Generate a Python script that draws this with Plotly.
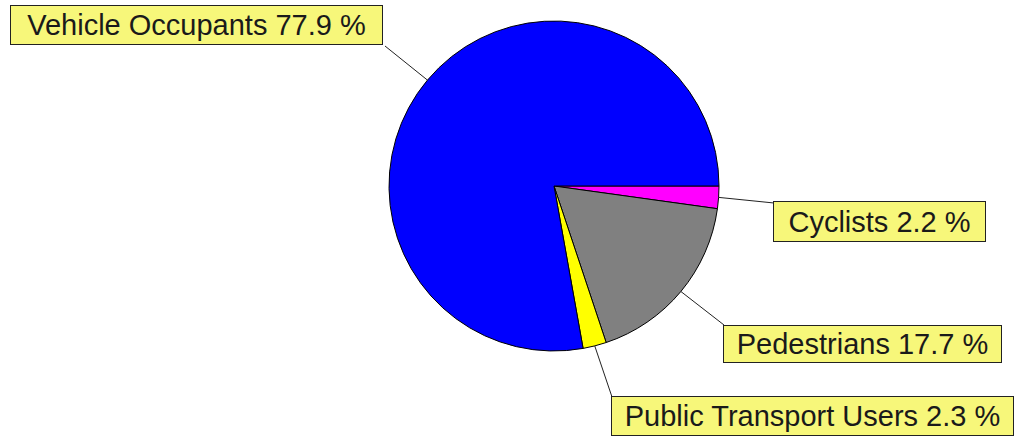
import math
import plotly.graph_objects as go

# ---- data ----
labels = ["Cyclists", "Pedestrians", "Public Transport Users", "Vehicle Occupants"]
values = [2.2, 17.7, 2.3, 77.9]
label_texts = ["Cyclists 2.2 %", "Pedestrians 17.7 %", "Public Transport Users 2.3 %", "Vehicle Occupants 77.9 %"]
colors = ["#FF00FF", "#808080", "#FFFF00", "#0000FF"]

# ---- layout constants (pixels) ----
W, H = 1017, 441
cx, cy, R = 554, 186, 165
# label boxes: left, top, right, bottom (px)
boxes = [
    (773, 201, 986, 242),
    (723, 325, 1002, 363),
    (611, 396, 1014, 436),
    (10, 5, 383, 45),
]
# anchor corner on each box that the leader line reaches
anchors = [(774, 203), (724, 325), (612, 397), (385, 46)]

def px(x):
    return x / W

def py(y):
    return 1 - y / H

fig = go.Figure()
fig.add_trace(go.Pie(
    labels=labels,
    values=values,
    sort=False,
    direction="clockwise",
    rotation=90,
    marker=dict(colors=colors, line=dict(color="black", width=1)),
    textinfo="none",
    hoverinfo="label+percent",
    showlegend=False,
    domain=dict(x=[px(cx - R), px(cx + R)], y=[py(cy + R), py(cy - R)]),
))

total = sum(values)
cum = 0.0
shapes = []
annotations = []
for i, v in enumerate(values):
    mid = -(cum + v / 2) / total * 360.0  # degrees, 0 at 3 o'clock, clockwise negative
    cum += v
    ex = cx + R * math.cos(math.radians(mid))
    ey = cy - R * math.sin(math.radians(mid))
    ax, ay = anchors[i]
    shapes.append(dict(type="line", xref="paper", yref="paper",
                       x0=px(ex), y0=py(ey), x1=px(ax), y1=py(ay),
                       line=dict(color="#222222", width=1)))
    l, t, r, b = boxes[i]
    annotations.append(dict(
        xref="paper", yref="paper", x=px(l), y=py(t),
        xanchor="left", yanchor="top",
        text=label_texts[i], showarrow=False,
        width=r - l - 2, height=b - t - 2,
        align="center", valign="middle",
        bgcolor="#F7F77A", bordercolor="#222222", borderwidth=1, borderpad=0,
        font=dict(family="Liberation Sans, Arial, sans-serif", size=29, color="#1a1a1a"),
    ))

fig.update_layout(
    width=W, height=H,
    margin=dict(l=0, r=0, t=0, b=0),
    paper_bgcolor="white", plot_bgcolor="white",
    shapes=shapes, annotations=annotations,
)
fig.write_html("out.html",
               config={"displayModeBar": False},
               post_script="document.body.style.margin='0';document.body.style.overflow='hidden';")
